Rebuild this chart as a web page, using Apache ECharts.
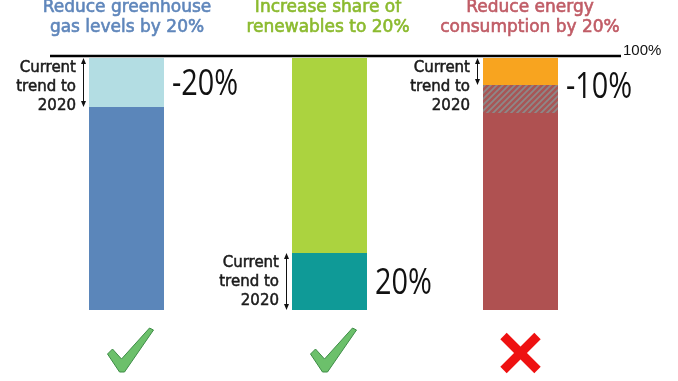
<!DOCTYPE html>
<html><head><meta charset="utf-8">
<script src="https://cdn.jsdelivr.net/npm/echarts@6/dist/echarts.min.js"></script>
<style>html,body{margin:0;padding:0;background:#fff}#c{width:678px;height:381px}</style>
</head><body><div id="c"></div>
<script>
// ---- data ----
const goals = ['Reduce greenhouse\ngas levels by 20%', 'Increase share of\nrenewables to 20%', 'Reduce energy\nconsumption by 20%'];
const ghgValues = [80.6, 19.4];          // remaining, reduction by current trend
const renValues = [22.6, 77.4];          // current trend share, rest
const energyValues = [78.2, 11.1, 10.7]; // remaining, gap (hatched), current trend reduction
const trendLabels = ['-20%', '20%', '-10%'];
const trendText = 'Current\ntrend to\n2020';
const outcomes = [true, true, false];
const topLabel = '100%';

// ---- styles ----
const titleColors = ['#5f86bb', '#8bba2e', '#c05c66'];
const barLefts = [89, 292, 483];
const BW = 75;

function hatch() {
  const s = 6, c = document.createElement('canvas');
  c.width = s; c.height = s;
  const g = c.getContext('2d');
  g.fillStyle = '#a85656'; g.fillRect(0, 0, s, s);
  g.strokeStyle = '#8e8888'; g.lineWidth = 1.8;
  g.beginPath();
  g.moveTo(0, s); g.lineTo(s, 0);
  g.moveTo(-s / 2, s / 2); g.lineTo(s / 2, -s / 2);
  g.moveTo(s / 2, s * 1.5); g.lineTo(s * 1.5, s / 2);
  g.stroke();
  return c;
}

const chart = echarts.init(document.getElementById('c'));
const grids = [], xAxes = [], yAxes = [];
for (let i = 0; i < 3; i++) {
  grids.push({ left: barLefts[i], width: BW, top: 58, bottom: 71 });
  xAxes.push({ type: 'category', gridIndex: i, data: ['v'], show: false });
  yAxes.push({ type: 'value', gridIndex: i, min: 0, max: 100, show: false });
}
function bar(gi, stack, val, color) {
  return { type: 'bar', xAxisIndex: gi, yAxisIndex: gi, stack: stack, barWidth: '100%',
    data: [val], itemStyle: { color: color }, silent: true };
}
chart.setOption({
  animation: false,
  grid: grids, xAxis: xAxes, yAxis: yAxes,
  series: [
    bar(0, 'a', ghgValues[0], '#5b86ba'),
    bar(0, 'a', ghgValues[1], '#b3dde3'),
    bar(1, 'b', renValues[0], '#0f9a97'),
    bar(1, 'b', renValues[1], '#abd33f'),
    bar(2, 'c', energyValues[0], '#af5151'),
    bar(2, 'c', energyValues[1], { image: hatch(), repeat: 'repeat' }),
    bar(2, 'c', energyValues[2], '#f8a41f')
  ]
});

const P = (gi, v) => chart.convertToPixel({ gridIndex: gi }, [0, v]);
const gfx = [];
const yTop = P(0, 100)[1];
gfx.push({ type: 'line', shape: { x1: 50, y1: yTop - 2, x2: 621, y2: yTop - 2 }, style: { stroke: '#000', lineWidth: 2.5 } });
gfx.push({ type: 'text', x: 623, y: yTop - 7, style: { text: topLabel, font: '15px "Liberation Sans", Arial', fill: '#111', textAlign: 'left', textVerticalAlign: 'middle' } });

const titleX = [127, 328, 530];
for (let i = 0; i < 3; i++) {
  gfx.push({ type: 'text', x: titleX[i], y: 18, style: { text: goals[i], font: '17px "DejaVu Sans"', lineHeight: 20, fill: titleColors[i], stroke: titleColors[i], lineWidth: 0.6, textAlign: 'center', textVerticalAlign: 'middle' } });
}

// segments spanned by "current trend" arrows
const spans = [
  [0, ghgValues[0], 100],
  [1, 0, renValues[0]],
  [2, energyValues[0] + energyValues[1], 100]
];
const pctSpans = [
  [0, ghgValues[0], 100],
  [1, 0, renValues[0]],
  [2, energyValues[0], 100]
];
function arrowHead(x, y, dir) {
  return { type: 'polygon', shape: { points: [[x - 2.5, y - dir * 6], [x + 2.5, y - dir * 6], [x, y]] }, style: { fill: '#111' } };
}
for (let i = 0; i < 3; i++) {
  const [gi, lo, hi] = spans[i];
  const cx = P(gi, 0)[0];
  const left = cx - BW / 2;
  const yA = P(gi, hi)[1], yB = P(gi, lo)[1];
  const ax = left - 5.5;
  gfx.push({ type: 'line', shape: { x1: ax, y1: yA + 1, x2: ax, y2: yB - 1 }, style: { stroke: '#111', lineWidth: 1 } });
  gfx.push(arrowHead(ax, yA, -1));
  gfx.push(arrowHead(ax, yB, 1));
  gfx.push({ type: 'text', x: left - 13, y: yA + 1, style: { text: trendText, font: '15px "DejaVu Sans"', lineHeight: 19, fill: '#1a1a1a', stroke: '#1a1a1a', lineWidth: 0.5, textAlign: 'right', textVerticalAlign: 'top' } });

  const [pg, plo, phi] = pctSpans[i];
  const ym = (P(pg, plo)[1] + P(pg, phi)[1]) / 2 + 2;
  gfx.push({ type: 'text', x: left + BW + 8, y: ym, scaleX: 0.78, style: { text: trendLabels[i], font: '37px "Open Sans", "Noto Sans", sans-serif', fill: '#111', textAlign: 'left', textVerticalAlign: 'middle' } });

  // outcome mark
  if (outcomes[i]) {
    const ox = cx - 19, oy = 328;
    const pts = [[0, 26], [5, 21], [14, 31], [42, 0], [46, 2], [17, 44], [12, 44]].map(p => [ox + p[0], oy + p[1]]);
    gfx.push({ type: 'polygon', shape: { points: pts }, style: { fill: '#6cc06b', stroke: '#3e8c47', lineWidth: 1 } });
  } else {
    const x0 = cx - 17, y0 = 336, s = 34;
    gfx.push({ type: 'line', shape: { x1: x0, y1: y0, x2: x0 + s, y2: y0 + s }, style: { stroke: '#ee1111', lineWidth: 9 } });
    gfx.push({ type: 'line', shape: { x1: x0 + s, y1: y0, x2: x0, y2: y0 + s }, style: { stroke: '#ee1111', lineWidth: 9 } });
  }
}
chart.setOption({ graphic: gfx });
</script>
</body></html>
